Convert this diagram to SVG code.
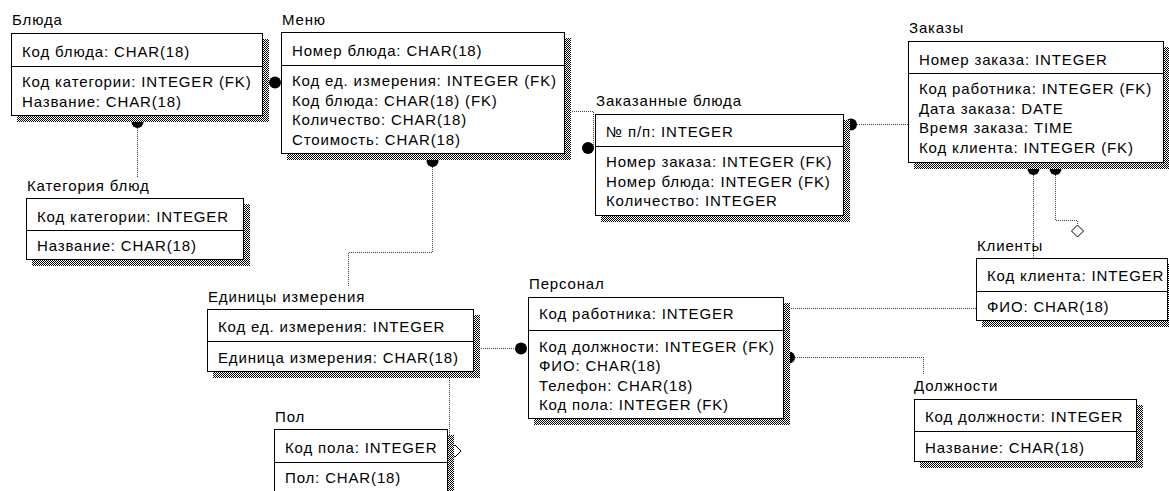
<svg xmlns="http://www.w3.org/2000/svg" width="1169" height="491" viewBox="0 0 1169 491">
  <defs>
    <!-- dithered grey used for the drop shadows -->
    <pattern id="dither" patternUnits="userSpaceOnUse" width="2" height="2">
      <rect width="2" height="2" fill="#fff"/>
      <rect width="1" height="1" fill="#000"/>
      <rect x="1" y="1" width="1" height="1" fill="#000"/>
    </pattern>
  </defs>
  <style>
    text { font-family: "Liberation Sans", Arial, sans-serif; font-size: 15px; letter-spacing: 0.85px; fill: #000; }
    .shadow { fill: url(#dither); shape-rendering: crispEdges; }
    .box { fill: #fff; stroke: #000; stroke-width: 1; shape-rendering: crispEdges; }
    .div { stroke: #000; stroke-width: 1; shape-rendering: crispEdges; }
    .rel { fill: none; stroke: #444; stroke-width: 1; stroke-dasharray: 1 1; shape-rendering: crispEdges; }
    .dot { fill: #000; }
    .dia { fill: #fff; stroke: #000; stroke-width: 1; }
  </style>
  <rect width="1169" height="491" fill="#fff"/>

  <!-- relationships -->
  <g id="connectors">
    <path class="rel" d="M137.5 122V177"/>
    <circle class="dot" cx="137.5" cy="122" r="6"/>
    <path class="rel" d="M262 82.5H275"/>
    <circle class="dot" cx="275" cy="82.5" r="6"/>
    <path class="rel" d="M432.5 161V252.5H348.5V287"/>
    <circle class="dot" cx="432.5" cy="161" r="6"/>
    <path class="rel" d="M570 111.5H593.5V148"/>
    <circle class="dot" cx="588" cy="148" r="6"/>
    <path class="rel" d="M851 124.5H908"/>
    <circle class="dot" cx="851" cy="124.5" r="6"/>
    <path class="rel" d="M1033.5 169V258"/>
    <circle class="dot" cx="1033.5" cy="169" r="6"/>
    <path class="rel" d="M1055.5 169V220.5H1077.5V225"/>
    <circle class="dot" cx="1055.5" cy="169" r="6"/>
    <path class="dia" d="M1077.5 225L1083.5 231L1077.5 237L1071.5 231Z"/>
    <path class="rel" d="M789 308.5H976"/>
    <path class="rel" d="M789 357.5H923.5V375"/>
    <circle class="dot" cx="789" cy="357.5" r="6"/>
    <path class="rel" d="M479 348.5H521"/>
    <circle class="dot" cx="521" cy="348.5" r="6"/>
    <path class="rel" d="M449.5 378V451"/>
    <path class="dia" d="M455 445L461 451L455 457L449 451Z"/>
  </g>

  <g id="bluda">
    <text x="12" y="25">Блюда</text>
    <rect class="shadow" x="17" y="39" width="252" height="83"/>
    <rect class="box" x="11.5" y="33.5" width="251" height="82"/>
    <path class="div" d="M11.5 66.5H262.5"/>
    <text x="22" y="57">Код блюда: CHAR(18)</text>
    <text x="22" y="87">Код категории: INTEGER (FK)</text>
    <text x="22" y="106.5">Название: CHAR(18)</text>
  </g>

  <g id="kategoriya">
    <text x="27" y="191">Категория блюд</text>
    <rect class="shadow" x="32" y="204" width="218" height="62"/>
    <rect class="box" x="26.5" y="198.5" width="217" height="61"/>
    <path class="div" d="M26.5 230.5H243.5"/>
    <text x="37" y="222">Код категории: INTEGER</text>
    <text x="37" y="251">Название: CHAR(18)</text>
  </g>

  <g id="menu">
    <text x="282" y="25">Меню</text>
    <rect class="shadow" x="287" y="38" width="284" height="122"/>
    <rect class="box" x="281.5" y="32.5" width="283" height="121"/>
    <path class="div" d="M281.5 65.5H564.5"/>
    <text x="292" y="56">Номер блюда: CHAR(18)</text>
    <text x="292" y="86">Код ед. измерения: INTEGER (FK)</text>
    <text x="292" y="105.5">Код блюда: CHAR(18) (FK)</text>
    <text x="292" y="125">Количество: CHAR(18)</text>
    <text x="292" y="144.5">Стоимость: CHAR(18)</text>
  </g>

  <g id="zakazannye">
    <text x="596" y="106">Заказанные блюда</text>
    <rect class="shadow" x="601" y="120" width="249" height="102"/>
    <rect class="box" x="595.5" y="114.5" width="248" height="101"/>
    <path class="div" d="M595.5 146.5H843.5"/>
    <text x="606" y="137">№ п/п: INTEGER</text>
    <text x="606" y="167">Номер заказа: INTEGER (FK)</text>
    <text x="606" y="186.5">Номер блюда: INTEGER (FK)</text>
    <text x="606" y="206">Количество: INTEGER</text>
  </g>

  <g id="zakazy">
    <text x="909" y="33">Заказы</text>
    <rect class="shadow" x="914" y="47" width="256" height="122"/>
    <rect class="box" x="908.5" y="41.5" width="255" height="121"/>
    <path class="div" d="M908.5 73.5H1163.5"/>
    <text x="919" y="65">Номер заказа: INTEGER</text>
    <text x="919" y="94">Код работника: INTEGER (FK)</text>
    <text x="919" y="113.5">Дата заказа: DATE</text>
    <text x="919" y="133">Время заказа: TIME</text>
    <text x="919" y="152.5">Код клиента: INTEGER (FK)</text>
  </g>

  <g id="klienty">
    <text x="977" y="251">Клиенты</text>
    <rect class="shadow" x="982" y="264" width="192" height="63"/>
    <rect class="box" x="976.5" y="258.5" width="191" height="62"/>
    <path class="div" d="M976.5 291.5H1167.5"/>
    <text x="987" y="281">Код клиента: INTEGER</text>
    <text x="987" y="312">ФИО: CHAR(18)</text>
  </g>

  <g id="edinicy">
    <text x="208" y="302">Единицы измерения</text>
    <rect class="shadow" x="213" y="315" width="267" height="63"/>
    <rect class="box" x="207.5" y="309.5" width="266" height="62"/>
    <path class="div" d="M207.5 341.5H473.5"/>
    <text x="218" y="332">Код ед. измерения: INTEGER</text>
    <text x="218" y="363">Единица измерения: CHAR(18)</text>
  </g>

  <g id="personal">
    <text x="529" y="289">Персонал</text>
    <rect class="shadow" x="534" y="303" width="256" height="122"/>
    <rect class="box" x="528.5" y="297.5" width="255" height="121"/>
    <path class="div" d="M528.5 330.5H783.5"/>
    <text x="539" y="319">Код работника: INTEGER</text>
    <text x="539" y="351.5">Код должности: INTEGER (FK)</text>
    <text x="539" y="371">ФИО: CHAR(18)</text>
    <text x="539" y="390.5">Телефон: CHAR(18)</text>
    <text x="539" y="410">Код пола: INTEGER (FK)</text>
  </g>

  <g id="pol">
    <text x="275" y="422">Пол</text>
    <rect class="shadow" x="280" y="435" width="174" height="63"/>
    <rect class="box" x="274.5" y="429.5" width="173" height="62"/>
    <path class="div" d="M274.5 462.5H447.5"/>
    <text x="285" y="453">Код пола: INTEGER</text>
    <text x="285" y="483">Пол: CHAR(18)</text>
  </g>

  <g id="dolzhnosti">
    <text x="914" y="391">Должности</text>
    <rect class="shadow" x="920" y="405" width="223" height="63"/>
    <rect class="box" x="914.5" y="399.5" width="222" height="62"/>
    <path class="div" d="M914.5 431.5H1136.5"/>
    <text x="925" y="422">Код должности: INTEGER</text>
    <text x="925" y="453">Название: CHAR(18)</text>
  </g>
</svg>
